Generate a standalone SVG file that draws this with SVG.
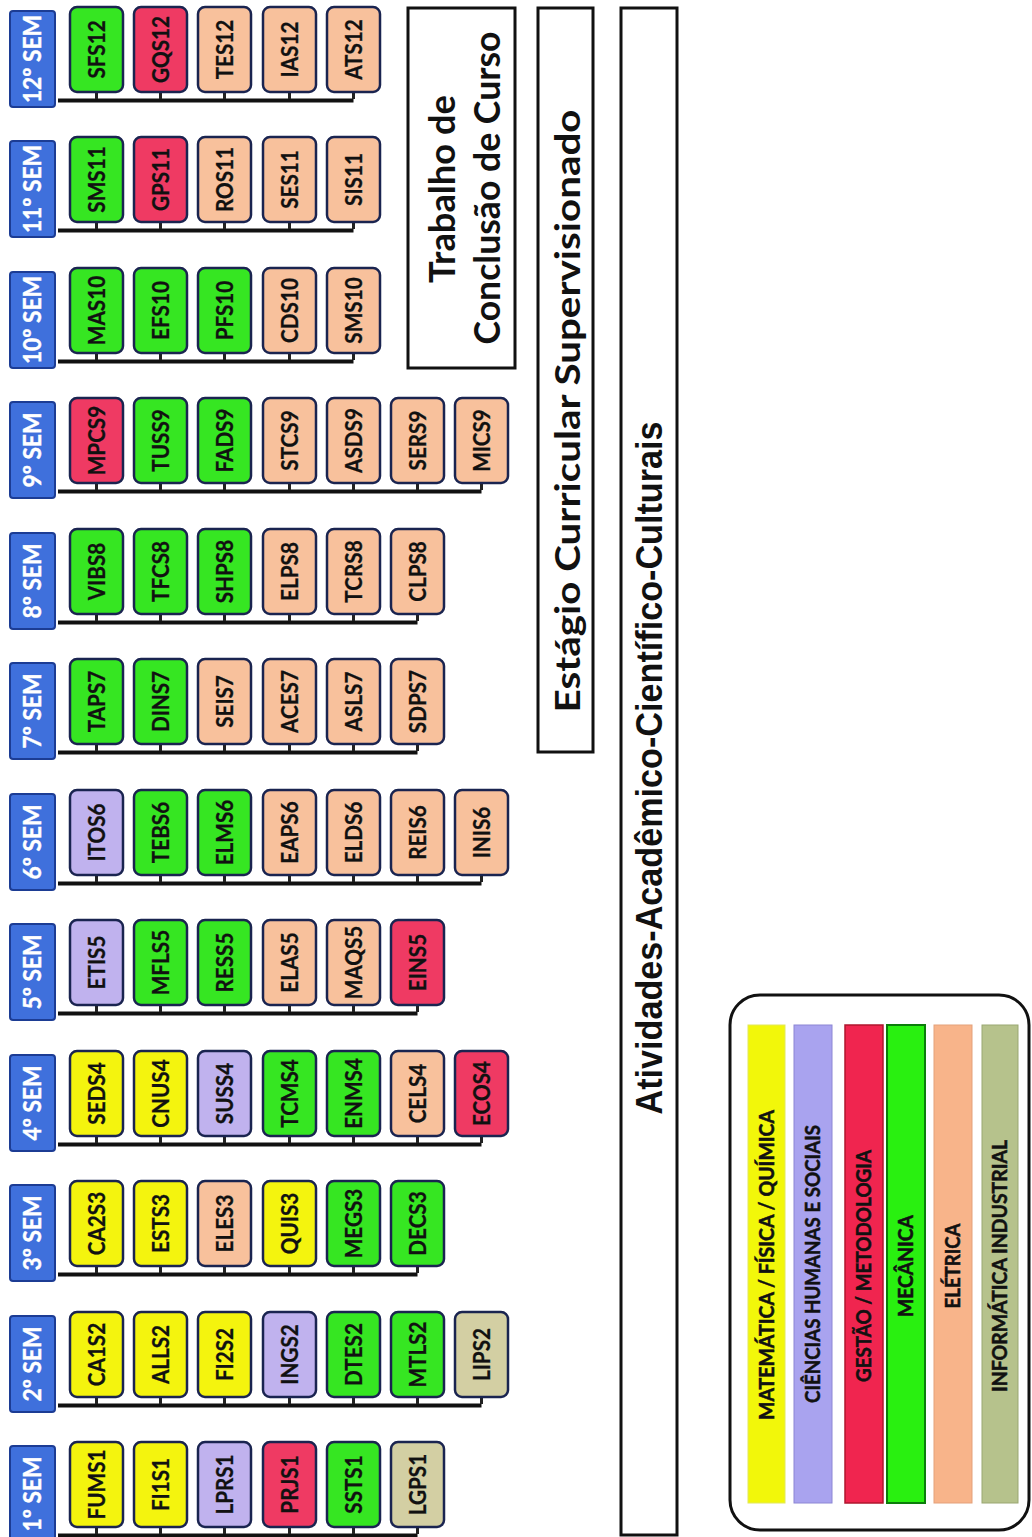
<svg xmlns="http://www.w3.org/2000/svg" width="1032" height="1537" viewBox="0 0 1032 1537">
<style>
.hdr rect{fill:#3f70dc;stroke:#1c3c94;stroke-width:2}
.hdr text{font-family:Lato,"Liberation Sans",sans-serif;font-weight:bold;font-size:24px;fill:#fff;stroke:#fff;stroke-width:0.4;text-anchor:middle}
.c rect{stroke:#1a2450;stroke-width:2.5}
.c text{font-family:Lato,"Liberation Sans",sans-serif;font-weight:bold;font-size:23px;fill:#111;stroke:#111;stroke-width:0.3;text-anchor:middle}
.y rect{fill:#f4f40e}
.p rect{fill:#c0b2ee}
.r rect{fill:#ef3a63}
.g rect{fill:#36e622}
.o rect{fill:#f8c19c}
.k rect{fill:#d3cfa3}
.bus{stroke:#111;stroke-width:4;fill:none}
.stub{stroke:#222;stroke-width:3}
.big rect{fill:#fff;stroke:#111;stroke-width:3}
.big text{font-family:Lato,"Liberation Sans",sans-serif;font-weight:bold;fill:#111;text-anchor:middle}
.leg text{font-family:Lato,"Liberation Sans",sans-serif;font-weight:bold;font-size:20px;fill:#111;stroke:#111;stroke-width:0.5;text-anchor:middle}
</style>
<rect width="1032" height="1537" fill="#fff"/>

<g id="connectors">
<path class="bus" d="M58 100.5H353.5"/>
<path class="stub" d="M96.5 92V99M160.5 92V99M224.5 92V99M289.5 92V99M353.5 92V99"/>
<path class="bus" d="M58 230.5H353.5"/>
<path class="stub" d="M96.5 222V229M160.5 222V229M224.5 222V229M289.5 222V229M353.5 222V229"/>
<path class="bus" d="M58 361.5H353.5"/>
<path class="stub" d="M96.5 353V360M160.5 353V360M224.5 353V360M289.5 353V360M353.5 353V360"/>
<path class="bus" d="M58 491.5H481.5"/>
<path class="stub" d="M96.5 483V490M160.5 483V490M224.5 483V490M289.5 483V490M353.5 483V490M417.5 483V490M481.5 483V490"/>
<path class="bus" d="M58 622.5H417.5"/>
<path class="stub" d="M96.5 614V621M160.5 614V621M224.5 614V621M289.5 614V621M353.5 614V621M417.5 614V621"/>
<path class="bus" d="M58 752.5H417.5"/>
<path class="stub" d="M96.5 744V751M160.5 744V751M224.5 744V751M289.5 744V751M353.5 744V751M417.5 744V751"/>
<path class="bus" d="M58 883.5H481.5"/>
<path class="stub" d="M96.5 875V882M160.5 875V882M224.5 875V882M289.5 875V882M353.5 875V882M417.5 875V882M481.5 875V882"/>
<path class="bus" d="M58 1013.5H417.5"/>
<path class="stub" d="M96.5 1005V1012M160.5 1005V1012M224.5 1005V1012M289.5 1005V1012M353.5 1005V1012M417.5 1005V1012"/>
<path class="bus" d="M58 1144.5H481.5"/>
<path class="stub" d="M96.5 1136V1143M160.5 1136V1143M224.5 1136V1143M289.5 1136V1143M353.5 1136V1143M417.5 1136V1143M481.5 1136V1143"/>
<path class="bus" d="M58 1274.5H417.5"/>
<path class="stub" d="M96.5 1266V1273M160.5 1266V1273M224.5 1266V1273M289.5 1266V1273M353.5 1266V1273M417.5 1266V1273"/>
<path class="bus" d="M58 1405.5H481.5"/>
<path class="stub" d="M96.5 1397V1404M160.5 1397V1404M224.5 1397V1404M289.5 1397V1404M353.5 1397V1404M417.5 1397V1404M481.5 1397V1404"/>
<path class="bus" d="M58 1535.5H417.5"/>
<path class="stub" d="M96.5 1527V1534M160.5 1527V1534M224.5 1527V1534M289.5 1527V1534M353.5 1527V1534M417.5 1527V1534"/>
</g>

<g id="sem12" class="hdr"><rect x="10" y="11" width="45" height="96" rx="3"/><text transform="translate(41,59) rotate(-90) scale(0.95,1)">12º SEM</text></g>
<g id="SFS12" class="c g"><rect x="70" y="7" width="53" height="85" rx="7"/><text transform="translate(104.5,49.5) rotate(-90) scale(0.9,1)">SFS12</text></g>
<g id="GQS12" class="c r"><rect x="134" y="7" width="53" height="85" rx="7"/><text transform="translate(168.5,49.5) rotate(-90) scale(0.9,1)">GQS12</text></g>
<g id="TES12" class="c o"><rect x="198" y="7" width="53" height="85" rx="7"/><text transform="translate(232.5,49.5) rotate(-90) scale(0.9,1)">TES12</text></g>
<g id="IAS12" class="c o"><rect x="263" y="7" width="53" height="85" rx="7"/><text transform="translate(297.5,49.5) rotate(-90) scale(0.9,1)">IAS12</text></g>
<g id="ATS12" class="c o"><rect x="327" y="7" width="53" height="85" rx="7"/><text transform="translate(361.5,49.5) rotate(-90) scale(0.9,1)">ATS12</text></g>

<g id="sem11" class="hdr"><rect x="10" y="141" width="45" height="96" rx="3"/><text transform="translate(41,189) rotate(-90) scale(0.95,1)">11º SEM</text></g>
<g id="SMS11" class="c g"><rect x="70" y="137" width="53" height="85" rx="7"/><text transform="translate(104.5,179.5) rotate(-90) scale(0.9,1)">SMS11</text></g>
<g id="GPS11" class="c r"><rect x="134" y="137" width="53" height="85" rx="7"/><text transform="translate(168.5,179.5) rotate(-90) scale(0.9,1)">GPS11</text></g>
<g id="ROS11" class="c o"><rect x="198" y="137" width="53" height="85" rx="7"/><text transform="translate(232.5,179.5) rotate(-90) scale(0.9,1)">ROS11</text></g>
<g id="SES11" class="c o"><rect x="263" y="137" width="53" height="85" rx="7"/><text transform="translate(297.5,179.5) rotate(-90) scale(0.9,1)">SES11</text></g>
<g id="SIS11" class="c o"><rect x="327" y="137" width="53" height="85" rx="7"/><text transform="translate(361.5,179.5) rotate(-90) scale(0.9,1)">SIS11</text></g>

<g id="sem10" class="hdr"><rect x="10" y="272" width="45" height="96" rx="3"/><text transform="translate(41,320) rotate(-90) scale(0.95,1)">10º SEM</text></g>
<g id="MAS10" class="c g"><rect x="70" y="268" width="53" height="85" rx="7"/><text transform="translate(104.5,310.5) rotate(-90) scale(0.9,1)">MAS10</text></g>
<g id="EFS10" class="c g"><rect x="134" y="268" width="53" height="85" rx="7"/><text transform="translate(168.5,310.5) rotate(-90) scale(0.9,1)">EFS10</text></g>
<g id="PFS10" class="c g"><rect x="198" y="268" width="53" height="85" rx="7"/><text transform="translate(232.5,310.5) rotate(-90) scale(0.9,1)">PFS10</text></g>
<g id="CDS10" class="c o"><rect x="263" y="268" width="53" height="85" rx="7"/><text transform="translate(297.5,310.5) rotate(-90) scale(0.9,1)">CDS10</text></g>
<g id="SMS10" class="c o"><rect x="327" y="268" width="53" height="85" rx="7"/><text transform="translate(361.5,310.5) rotate(-90) scale(0.9,1)">SMS10</text></g>

<g id="sem9" class="hdr"><rect x="10" y="402" width="45" height="96" rx="3"/><text transform="translate(41,450) rotate(-90) scale(0.95,1)">9º SEM</text></g>
<g id="MPCS9" class="c r"><rect x="70" y="398" width="53" height="85" rx="7"/><text transform="translate(104.5,440.5) rotate(-90) scale(0.9,1)">MPCS9</text></g>
<g id="TUSS9" class="c g"><rect x="134" y="398" width="53" height="85" rx="7"/><text transform="translate(168.5,440.5) rotate(-90) scale(0.9,1)">TUSS9</text></g>
<g id="FADS9" class="c g"><rect x="198" y="398" width="53" height="85" rx="7"/><text transform="translate(232.5,440.5) rotate(-90) scale(0.9,1)">FADS9</text></g>
<g id="STCS9" class="c o"><rect x="263" y="398" width="53" height="85" rx="7"/><text transform="translate(297.5,440.5) rotate(-90) scale(0.9,1)">STCS9</text></g>
<g id="ASDS9" class="c o"><rect x="327" y="398" width="53" height="85" rx="7"/><text transform="translate(361.5,440.5) rotate(-90) scale(0.9,1)">ASDS9</text></g>
<g id="SERS9" class="c o"><rect x="391" y="398" width="53" height="85" rx="7"/><text transform="translate(425.5,440.5) rotate(-90) scale(0.9,1)">SERS9</text></g>
<g id="MICS9" class="c o"><rect x="455" y="398" width="53" height="85" rx="7"/><text transform="translate(489.5,440.5) rotate(-90) scale(0.9,1)">MICS9</text></g>

<g id="sem8" class="hdr"><rect x="10" y="533" width="45" height="96" rx="3"/><text transform="translate(41,581) rotate(-90) scale(0.95,1)">8º SEM</text></g>
<g id="VIBS8" class="c g"><rect x="70" y="529" width="53" height="85" rx="7"/><text transform="translate(104.5,571.5) rotate(-90) scale(0.9,1)">VIBS8</text></g>
<g id="TFCS8" class="c g"><rect x="134" y="529" width="53" height="85" rx="7"/><text transform="translate(168.5,571.5) rotate(-90) scale(0.9,1)">TFCS8</text></g>
<g id="SHPS8" class="c g"><rect x="198" y="529" width="53" height="85" rx="7"/><text transform="translate(232.5,571.5) rotate(-90) scale(0.9,1)">SHPS8</text></g>
<g id="ELPS8" class="c o"><rect x="263" y="529" width="53" height="85" rx="7"/><text transform="translate(297.5,571.5) rotate(-90) scale(0.9,1)">ELPS8</text></g>
<g id="TCRS8" class="c o"><rect x="327" y="529" width="53" height="85" rx="7"/><text transform="translate(361.5,571.5) rotate(-90) scale(0.9,1)">TCRS8</text></g>
<g id="CLPS8" class="c o"><rect x="391" y="529" width="53" height="85" rx="7"/><text transform="translate(425.5,571.5) rotate(-90) scale(0.9,1)">CLPS8</text></g>

<g id="sem7" class="hdr"><rect x="10" y="663" width="45" height="96" rx="3"/><text transform="translate(41,711) rotate(-90) scale(0.95,1)">7º SEM</text></g>
<g id="TAPS7" class="c g"><rect x="70" y="659" width="53" height="85" rx="7"/><text transform="translate(104.5,701.5) rotate(-90) scale(0.9,1)">TAPS7</text></g>
<g id="DINS7" class="c g"><rect x="134" y="659" width="53" height="85" rx="7"/><text transform="translate(168.5,701.5) rotate(-90) scale(0.9,1)">DINS7</text></g>
<g id="SEIS7" class="c o"><rect x="198" y="659" width="53" height="85" rx="7"/><text transform="translate(232.5,701.5) rotate(-90) scale(0.9,1)">SEIS7</text></g>
<g id="ACES7" class="c o"><rect x="263" y="659" width="53" height="85" rx="7"/><text transform="translate(297.5,701.5) rotate(-90) scale(0.9,1)">ACES7</text></g>
<g id="ASLS7" class="c o"><rect x="327" y="659" width="53" height="85" rx="7"/><text transform="translate(361.5,701.5) rotate(-90) scale(0.9,1)">ASLS7</text></g>
<g id="SDPS7" class="c o"><rect x="391" y="659" width="53" height="85" rx="7"/><text transform="translate(425.5,701.5) rotate(-90) scale(0.9,1)">SDPS7</text></g>

<g id="sem6" class="hdr"><rect x="10" y="794" width="45" height="96" rx="3"/><text transform="translate(41,842) rotate(-90) scale(0.95,1)">6º SEM</text></g>
<g id="ITOS6" class="c p"><rect x="70" y="790" width="53" height="85" rx="7"/><text transform="translate(104.5,832.5) rotate(-90) scale(0.9,1)">ITOS6</text></g>
<g id="TEBS6" class="c g"><rect x="134" y="790" width="53" height="85" rx="7"/><text transform="translate(168.5,832.5) rotate(-90) scale(0.9,1)">TEBS6</text></g>
<g id="ELMS6" class="c g"><rect x="198" y="790" width="53" height="85" rx="7"/><text transform="translate(232.5,832.5) rotate(-90) scale(0.9,1)">ELMS6</text></g>
<g id="EAPS6" class="c o"><rect x="263" y="790" width="53" height="85" rx="7"/><text transform="translate(297.5,832.5) rotate(-90) scale(0.9,1)">EAPS6</text></g>
<g id="ELDS6" class="c o"><rect x="327" y="790" width="53" height="85" rx="7"/><text transform="translate(361.5,832.5) rotate(-90) scale(0.9,1)">ELDS6</text></g>
<g id="REIS6" class="c o"><rect x="391" y="790" width="53" height="85" rx="7"/><text transform="translate(425.5,832.5) rotate(-90) scale(0.9,1)">REIS6</text></g>
<g id="INIS6" class="c o"><rect x="455" y="790" width="53" height="85" rx="7"/><text transform="translate(489.5,832.5) rotate(-90) scale(0.9,1)">INIS6</text></g>

<g id="sem5" class="hdr"><rect x="10" y="924" width="45" height="96" rx="3"/><text transform="translate(41,972) rotate(-90) scale(0.95,1)">5º SEM</text></g>
<g id="ETIS5" class="c p"><rect x="70" y="920" width="53" height="85" rx="7"/><text transform="translate(104.5,962.5) rotate(-90) scale(0.9,1)">ETIS5</text></g>
<g id="MFLS5" class="c g"><rect x="134" y="920" width="53" height="85" rx="7"/><text transform="translate(168.5,962.5) rotate(-90) scale(0.9,1)">MFLS5</text></g>
<g id="RESS5" class="c g"><rect x="198" y="920" width="53" height="85" rx="7"/><text transform="translate(232.5,962.5) rotate(-90) scale(0.9,1)">RESS5</text></g>
<g id="ELAS5" class="c o"><rect x="263" y="920" width="53" height="85" rx="7"/><text transform="translate(297.5,962.5) rotate(-90) scale(0.9,1)">ELAS5</text></g>
<g id="MAQS5" class="c o"><rect x="327" y="920" width="53" height="85" rx="7"/><text transform="translate(361.5,962.5) rotate(-90) scale(0.9,1)">MAQS5</text></g>
<g id="EINS5" class="c r"><rect x="391" y="920" width="53" height="85" rx="7"/><text transform="translate(425.5,962.5) rotate(-90) scale(0.9,1)">EINS5</text></g>

<g id="sem4" class="hdr"><rect x="10" y="1055" width="45" height="96" rx="3"/><text transform="translate(41,1103) rotate(-90) scale(0.95,1)">4º SEM</text></g>
<g id="SEDS4" class="c y"><rect x="70" y="1051" width="53" height="85" rx="7"/><text transform="translate(104.5,1093.5) rotate(-90) scale(0.9,1)">SEDS4</text></g>
<g id="CNUS4" class="c y"><rect x="134" y="1051" width="53" height="85" rx="7"/><text transform="translate(168.5,1093.5) rotate(-90) scale(0.9,1)">CNUS4</text></g>
<g id="SUSS4" class="c p"><rect x="198" y="1051" width="53" height="85" rx="7"/><text transform="translate(232.5,1093.5) rotate(-90) scale(0.9,1)">SUSS4</text></g>
<g id="TCMS4" class="c g"><rect x="263" y="1051" width="53" height="85" rx="7"/><text transform="translate(297.5,1093.5) rotate(-90) scale(0.9,1)">TCMS4</text></g>
<g id="ENMS4" class="c g"><rect x="327" y="1051" width="53" height="85" rx="7"/><text transform="translate(361.5,1093.5) rotate(-90) scale(0.9,1)">ENMS4</text></g>
<g id="CELS4" class="c o"><rect x="391" y="1051" width="53" height="85" rx="7"/><text transform="translate(425.5,1093.5) rotate(-90) scale(0.9,1)">CELS4</text></g>
<g id="ECOS4" class="c r"><rect x="455" y="1051" width="53" height="85" rx="7"/><text transform="translate(489.5,1093.5) rotate(-90) scale(0.9,1)">ECOS4</text></g>

<g id="sem3" class="hdr"><rect x="10" y="1185" width="45" height="96" rx="3"/><text transform="translate(41,1233) rotate(-90) scale(0.95,1)">3º SEM</text></g>
<g id="CA2S3" class="c y"><rect x="70" y="1181" width="53" height="85" rx="7"/><text transform="translate(104.5,1223.5) rotate(-90) scale(0.9,1)">CA2S3</text></g>
<g id="ESTS3" class="c y"><rect x="134" y="1181" width="53" height="85" rx="7"/><text transform="translate(168.5,1223.5) rotate(-90) scale(0.9,1)">ESTS3</text></g>
<g id="ELES3" class="c o"><rect x="198" y="1181" width="53" height="85" rx="7"/><text transform="translate(232.5,1223.5) rotate(-90) scale(0.9,1)">ELES3</text></g>
<g id="QUIS3" class="c y"><rect x="263" y="1181" width="53" height="85" rx="7"/><text transform="translate(297.5,1223.5) rotate(-90) scale(0.9,1)">QUIS3</text></g>
<g id="MEGS3" class="c g"><rect x="327" y="1181" width="53" height="85" rx="7"/><text transform="translate(361.5,1223.5) rotate(-90) scale(0.9,1)">MEGS3</text></g>
<g id="DECS3" class="c g"><rect x="391" y="1181" width="53" height="85" rx="7"/><text transform="translate(425.5,1223.5) rotate(-90) scale(0.9,1)">DECS3</text></g>

<g id="sem2" class="hdr"><rect x="10" y="1316" width="45" height="96" rx="3"/><text transform="translate(41,1364) rotate(-90) scale(0.95,1)">2º SEM</text></g>
<g id="CA1S2" class="c y"><rect x="70" y="1312" width="53" height="85" rx="7"/><text transform="translate(104.5,1354.5) rotate(-90) scale(0.9,1)">CA1S2</text></g>
<g id="ALLS2" class="c y"><rect x="134" y="1312" width="53" height="85" rx="7"/><text transform="translate(168.5,1354.5) rotate(-90) scale(0.9,1)">ALLS2</text></g>
<g id="FI2S2" class="c y"><rect x="198" y="1312" width="53" height="85" rx="7"/><text transform="translate(232.5,1354.5) rotate(-90) scale(0.9,1)">FI2S2</text></g>
<g id="INGS2" class="c p"><rect x="263" y="1312" width="53" height="85" rx="7"/><text transform="translate(297.5,1354.5) rotate(-90) scale(0.9,1)">INGS2</text></g>
<g id="DTES2" class="c g"><rect x="327" y="1312" width="53" height="85" rx="7"/><text transform="translate(361.5,1354.5) rotate(-90) scale(0.9,1)">DTES2</text></g>
<g id="MTLS2" class="c g"><rect x="391" y="1312" width="53" height="85" rx="7"/><text transform="translate(425.5,1354.5) rotate(-90) scale(0.9,1)">MTLS2</text></g>
<g id="LIPS2" class="c k"><rect x="455" y="1312" width="53" height="85" rx="7"/><text transform="translate(489.5,1354.5) rotate(-90) scale(0.9,1)">LIPS2</text></g>

<g id="sem1" class="hdr"><rect x="10" y="1446" width="45" height="96" rx="3"/><text transform="translate(41,1494) rotate(-90) scale(0.95,1)">1º SEM</text></g>
<g id="FUMS1" class="c y"><rect x="70" y="1442" width="53" height="85" rx="7"/><text transform="translate(104.5,1484.5) rotate(-90) scale(0.9,1)">FUMS1</text></g>
<g id="FI1S1" class="c y"><rect x="134" y="1442" width="53" height="85" rx="7"/><text transform="translate(168.5,1484.5) rotate(-90) scale(0.9,1)">FI1S1</text></g>
<g id="LPRS1" class="c p"><rect x="198" y="1442" width="53" height="85" rx="7"/><text transform="translate(232.5,1484.5) rotate(-90) scale(0.9,1)">LPRS1</text></g>
<g id="PRJS1" class="c r"><rect x="263" y="1442" width="53" height="85" rx="7"/><text transform="translate(297.5,1484.5) rotate(-90) scale(0.9,1)">PRJS1</text></g>
<g id="SSTS1" class="c g"><rect x="327" y="1442" width="53" height="85" rx="7"/><text transform="translate(361.5,1484.5) rotate(-90) scale(0.9,1)">SSTS1</text></g>
<g id="LGPS1" class="c k"><rect x="391" y="1442" width="53" height="85" rx="7"/><text transform="translate(425.5,1484.5) rotate(-90) scale(0.9,1)">LGPS1</text></g>

<g id="tcc" class="big">
<rect x="408" y="8" width="107" height="360"/>
<text font-size="37" textLength="188" lengthAdjust="spacingAndGlyphs" transform="translate(455,189) rotate(-90)">Trabalho de</text>
<text font-size="37" textLength="313" lengthAdjust="spacingAndGlyphs" transform="translate(500,188) rotate(-90)">Conclusão de Curso</text>
</g>
<g id="estagio" class="big">
<rect x="538" y="8" width="55" height="744"/>
<text font-size="35" textLength="603" lengthAdjust="spacingAndGlyphs" transform="translate(580,411) rotate(-90)">Estágio Curricular Supervisionado</text>
</g>
<g id="atividades" class="big">
<rect x="621" y="8" width="56" height="1527"/>
<text style="font-family:'Liberation Sans',Arial,sans-serif" font-size="36" textLength="693" lengthAdjust="spacingAndGlyphs" transform="translate(662,768) rotate(-90)">Atividades-Acadêmico-Científico-Culturais</text>
</g>

<g id="legend" class="leg">
<rect x="730" y="995" width="299" height="535" rx="30" fill="#fff" stroke="#111" stroke-width="3"/>
<rect x="748" y="1025" width="37" height="478" fill="#f2f70a" stroke="#e2e85a" stroke-width="1"/>
<rect x="794" y="1025" width="38" height="478" fill="#a9a3ef" stroke="#8c86d4" stroke-width="1"/>
<rect x="845" y="1025" width="38" height="478" fill="#f0254f" stroke="#b0162e" stroke-width="1.5"/>
<rect x="887" y="1025" width="38" height="478" fill="#29f010" stroke="#0b7d0b" stroke-width="2"/>
<rect x="934" y="1025" width="38" height="478" fill="#f8b48a" stroke="#e4a17a" stroke-width="1"/>
<rect x="982" y="1025" width="36" height="478" fill="#b6c28c" stroke="#9aa772" stroke-width="1"/>
<text textLength="310" lengthAdjust="spacingAndGlyphs" transform="translate(774,1265) rotate(-90)">MATEMÁTICA / FÍSICA / QUÍMICA</text>
<text textLength="278" lengthAdjust="spacingAndGlyphs" transform="translate(820,1264) rotate(-90)">CIÊNCIAS HUMANAS E SOCIAIS</text>
<text textLength="232" lengthAdjust="spacingAndGlyphs" transform="translate(871,1266) rotate(-90)">GESTÃO / METODOLOGIA</text>
<text textLength="102" lengthAdjust="spacingAndGlyphs" transform="translate(913,1266) rotate(-90)">MECÂNICA</text>
<text textLength="85" lengthAdjust="spacingAndGlyphs" transform="translate(960,1266) rotate(-90)">ELÉTRICA</text>
<text textLength="252" lengthAdjust="spacingAndGlyphs" transform="translate(1007,1266) rotate(-90)">INFORMÁTICA INDUSTRIAL</text>
</g>
</svg>
